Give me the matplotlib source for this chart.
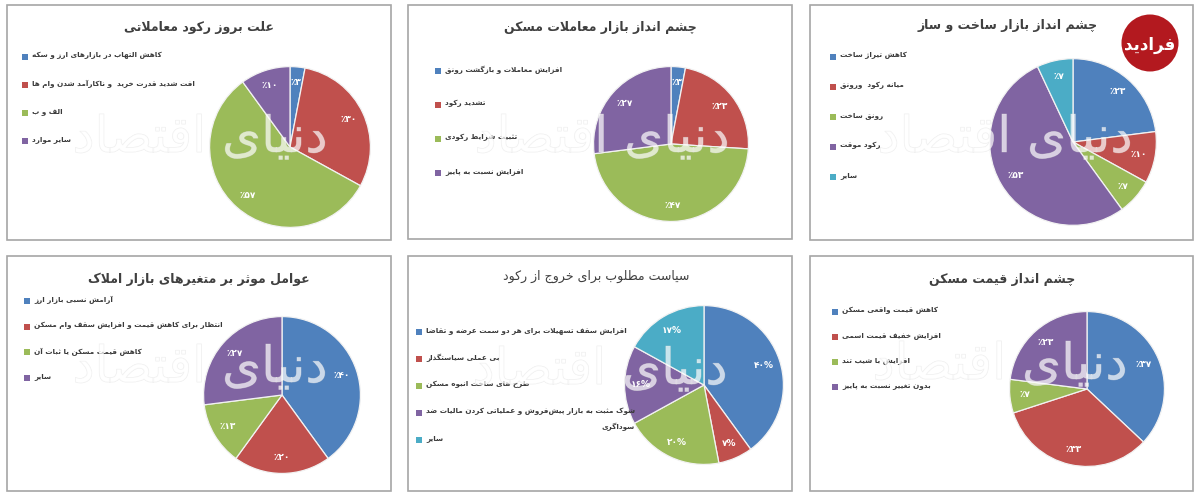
import matplotlib
matplotlib.use('Agg')
import matplotlib.pyplot as plt
import matplotlib.patheffects as pe
from matplotlib.patches import Rectangle, Ellipse

plt.rcParams['font.family'] = ['DejaVu Sans']

W, H = 1200, 498

# Persian letters -> presentation forms (isolated, final, initial, medial)
FORMS = {
    '\u0622': '\uFE81\uFE82',
    '\u0627': '\uFE8D\uFE8E',
    '\u0628': '\uFE8F\uFE90\uFE91\uFE92',
    '\u067E': '\uFB56\uFB57\uFB58\uFB59',
    '\u062A': '\uFE95\uFE96\uFE97\uFE98',
    '\u062B': '\uFE99\uFE9A\uFE9B\uFE9C',
    '\u062C': '\uFE9D\uFE9E\uFE9F\uFEA0',
    '\u0686': '\uFB7A\uFB7B\uFB7C\uFB7D',
    '\u062D': '\uFEA1\uFEA2\uFEA3\uFEA4',
    '\u062E': '\uFEA5\uFEA6\uFEA7\uFEA8',
    '\u062F': '\uFEA9\uFEAA',
    '\u0630': '\uFEAB\uFEAC',
    '\u0631': '\uFEAD\uFEAE',
    '\u0632': '\uFEAF\uFEB0',
    '\u0698': '\uFB8A\uFB8B',
    '\u0633': '\uFEB1\uFEB2\uFEB3\uFEB4',
    '\u0634': '\uFEB5\uFEB6\uFEB7\uFEB8',
    '\u0635': '\uFEB9\uFEBA\uFEBB\uFEBC',
    '\u0636': '\uFEBD\uFEBE\uFEBF\uFEC0',
    '\u0637': '\uFEC1\uFEC2\uFEC3\uFEC4',
    '\u0638': '\uFEC5\uFEC6\uFEC7\uFEC8',
    '\u0639': '\uFEC9\uFECA\uFECB\uFECC',
    '\u063A': '\uFECD\uFECE\uFECF\uFED0',
    '\u0641': '\uFED1\uFED2\uFED3\uFED4',
    '\u0642': '\uFED5\uFED6\uFED7\uFED8',
    '\u06A9': '\uFB8E\uFB8F\uFB90\uFB91',
    '\u06AF': '\uFB92\uFB93\uFB94\uFB95',
    '\u0644': '\uFEDD\uFEDE\uFEDF\uFEE0',
    '\u0645': '\uFEE1\uFEE2\uFEE3\uFEE4',
    '\u0646': '\uFEE5\uFEE6\uFEE7\uFEE8',
    '\u0648': '\uFEED\uFEEE',
    '\u0647': '\uFEE9\uFEEA\uFEEB\uFEEC',
    '\u06CC': '\uFBFC\uFBFD\uFBFE\uFBFF',
}
LAM_ALEF = {'\u0627': '\uFEFB\uFEFC', '\u0622': '\uFEF5\uFEF6'}


def shape_line(s):
    out = []
    i = 0
    while i < len(s):
        c = s[i]
        if c not in FORMS:
            if c != '\u200c':
                out.append(c)
            i += 1
            continue
        prev = s[i - 1] if i > 0 else ''
        jp = prev in FORMS and len(FORMS[prev]) == 4
        nxt = s[i + 1] if i + 1 < len(s) else ''
        if c == '\u0644' and nxt in LAM_ALEF:
            out.append(LAM_ALEF[nxt][1] if jp else LAM_ALEF[nxt][0])
            i += 2
            continue
        f = FORMS[c]
        jn = len(f) == 4 and nxt in FORMS
        if jp and jn:
            out.append(f[3])
        elif jp:
            out.append(f[1])
        elif jn:
            out.append(f[2])
        else:
            out.append(f[0])
        i += 1
    return ''.join(out)[::-1]


def fa(s):
    return '\n'.join(shape_line(line) for line in s.split('\n'))


def fa_num(n):
    return str(n).translate(str.maketrans('0123456789', '۰۱۲۳۴۵۶۷۸۹'))


# ---- data ----
titles = [
    'علت بروز رکود معاملاتی',
    'چشم انداز بازار معاملات مسکن',
    'چشم انداز بازار ساخت و ساز',
    'عوامل موثر بر متغیرهای بازار املاک',
    'سیاست مطلوب برای خروج از رکود',
    'چشم انداز قیمت مسکن',
]
labels_1 = ['کاهش التهاب در بازارهای ارز و سکه',
            'افت شدید قدرت خرید  و ناکارآمد شدن وام ها',
            'الف و ب', 'سایر موارد']
values_1 = [3, 30, 57, 10]
labels_2 = ['افزایش معاملات و بازگشت رونق', 'تشدید رکود',
            'تثبیت شرایط رکودی', 'افزایش نسبت به پاییز']
values_2 = [3, 23, 47, 27]
labels_3 = ['کاهش تیراژ ساخت', 'میانه رکود  ورونق', 'رونق ساخت',
            'رکود موقت', 'سایر']
values_3 = [23, 10, 7, 53, 7]
labels_4 = ['آرامش نسبی بازار ارز',
            'انتظار برای کاهش قیمت و افزایش سقف وام مسکن',
            'کاهش قیمت مسکن یا ثبات آن', 'سایر']
values_4 = [40, 20, 13, 27]
labels_5 = ['افزایش سقف تسهیلات برای هر دو سمت عرضه و تقاضا',
            'بی عملی سیاستگذار', 'طرح های ساخت انبوه مسکن',
            'شوک مثبت به بازار پیش\u200cفروش و عملیاتی کردن مالیات ضد\nسوداگری',
            'سایر']
values_5 = [40, 7, 20, 16, 17]
labels_6 = ['کاهش قیمت واقعی مسکن', 'افزایش خفیف قیمت اسمی',
            'افزایش با شیب تند', 'بدون تغییر نسبت به پاییز']
values_6 = [37, 33, 7, 23]

all_labels = [labels_1, labels_2, labels_3, labels_4, labels_5, labels_6]
all_values = [values_1, values_2, values_3, values_4, values_5, values_6]

colors = ['#4F81BD', '#C0504D', '#9BBB59', '#8064A2', '#4BACC6']

# ---- layout (pixels) ----
boxes = [(7, 5, 391, 240), (408, 5, 792, 239), (810, 5, 1193, 240),
         (7, 256, 391, 491), (408, 256, 792, 491), (810, 256, 1193, 491)]
pies = [(290, 147, 82), (671, 144, 79), (1073, 142, 85),
        (282, 395, 80), (704, 385, 81), (1087, 389, 79)]
title_pos = [(199, 28), (600, 28), (1008, 25), (199, 279), (596, 276), (1002, 280)]
title_bold = [True, True, True, True, False, True]
# legend: x of square, y of first row, row gap
legend_x = [22, 435, 830, 24, 416, 832]
legend_y = [57, 71, 57, 301, 332, 312]
legend_gap = [28, 34, 30, 25.7, 27, 25]
watermark_pos = [(200, 138), (602, 138), (1005, 138), (200, 368), (600, 370), (1000, 365)]

fig = plt.figure(figsize=(W / 100, H / 100), dpi=100)
fig.patch.set_facecolor('white')


def fx(x):
    return x / W


def fy(y):
    return 1 - y / H


for k in range(6):
    x0, y0, x1, y1 = boxes[k]
    fig.add_artist(Rectangle((fx(x0), fy(y1)), (x1 - x0) / W, (y1 - y0) / H,
                             transform=fig.transFigure, facecolor='white',
                             edgecolor='#a6a6a6', linewidth=1.2, zorder=0))

    cx, cy, r = pies[k]
    ax = fig.add_axes([fx(cx - r), fy(cy + r), 2 * r / W, 2 * r / H])
    vals = all_values[k]
    if k == 4:
        fmt = lambda p: fa_num(int(round(p))) + '%'
    else:
        fmt = lambda p: '٪' + fa_num(int(round(p)))
    wedges, _, _ = ax.pie(vals, colors=colors[:len(vals)], startangle=90,
                          counterclock=False, autopct=fmt, pctdistance=0.8,
                          wedgeprops=dict(edgecolor='#f2f2f2', linewidth=0.9),
                          textprops=dict(color='white', fontsize=6.5,
                                         fontweight='bold'))
    ax.set_xlim(-1.02, 1.02)
    ax.set_ylim(-1.02, 1.02)
    ax.axis('off')

    tx, ty = title_pos[k]
    fig.text(fx(tx), fy(ty), fa(titles[k]), ha='center', va='center',
             fontsize=9, color='#404040',
             fontweight='bold' if title_bold[k] else 'normal')

    # legend rows
    for i, lab in enumerate(all_labels[k]):
        yr = legend_y[k] + i * legend_gap[k]
        fig.add_artist(Rectangle((fx(legend_x[k]), fy(yr + 3)), 6 / W, 6 / H,
                                 transform=fig.transFigure,
                                 facecolor=colors[i], edgecolor='none'))
        fig.text(fx(legend_x[k] + 10), fy(yr - 5), fa(lab), ha='left', va='top',
                 fontsize=5.2, fontweight='bold', color='#3a3a3a',
                 multialignment='right', linespacing=2.2)

    # faint publisher watermark
    wx, wy = watermark_pos[k]
    fig.text(fx(wx), fy(wy), fa('دنیای اقتصاد'), ha='center', va='center',
             fontsize=36, color='white', alpha=0.45, zorder=10,
             path_effects=[pe.withStroke(linewidth=0.6, foreground='#d8d8d8')])

# publisher logo
fig.add_artist(Ellipse((fx(1150), fy(43)), 57 / W, 57 / H, transform=fig.transFigure,
                       facecolor='#B3191F', edgecolor='none', zorder=11))
fig.text(fx(1150), fy(45), fa('فرادید'), ha='center', va='center', fontsize=12,
         fontweight='bold', color='white', zorder=12)

fig.savefig('out.png', dpi=100, facecolor='white')
